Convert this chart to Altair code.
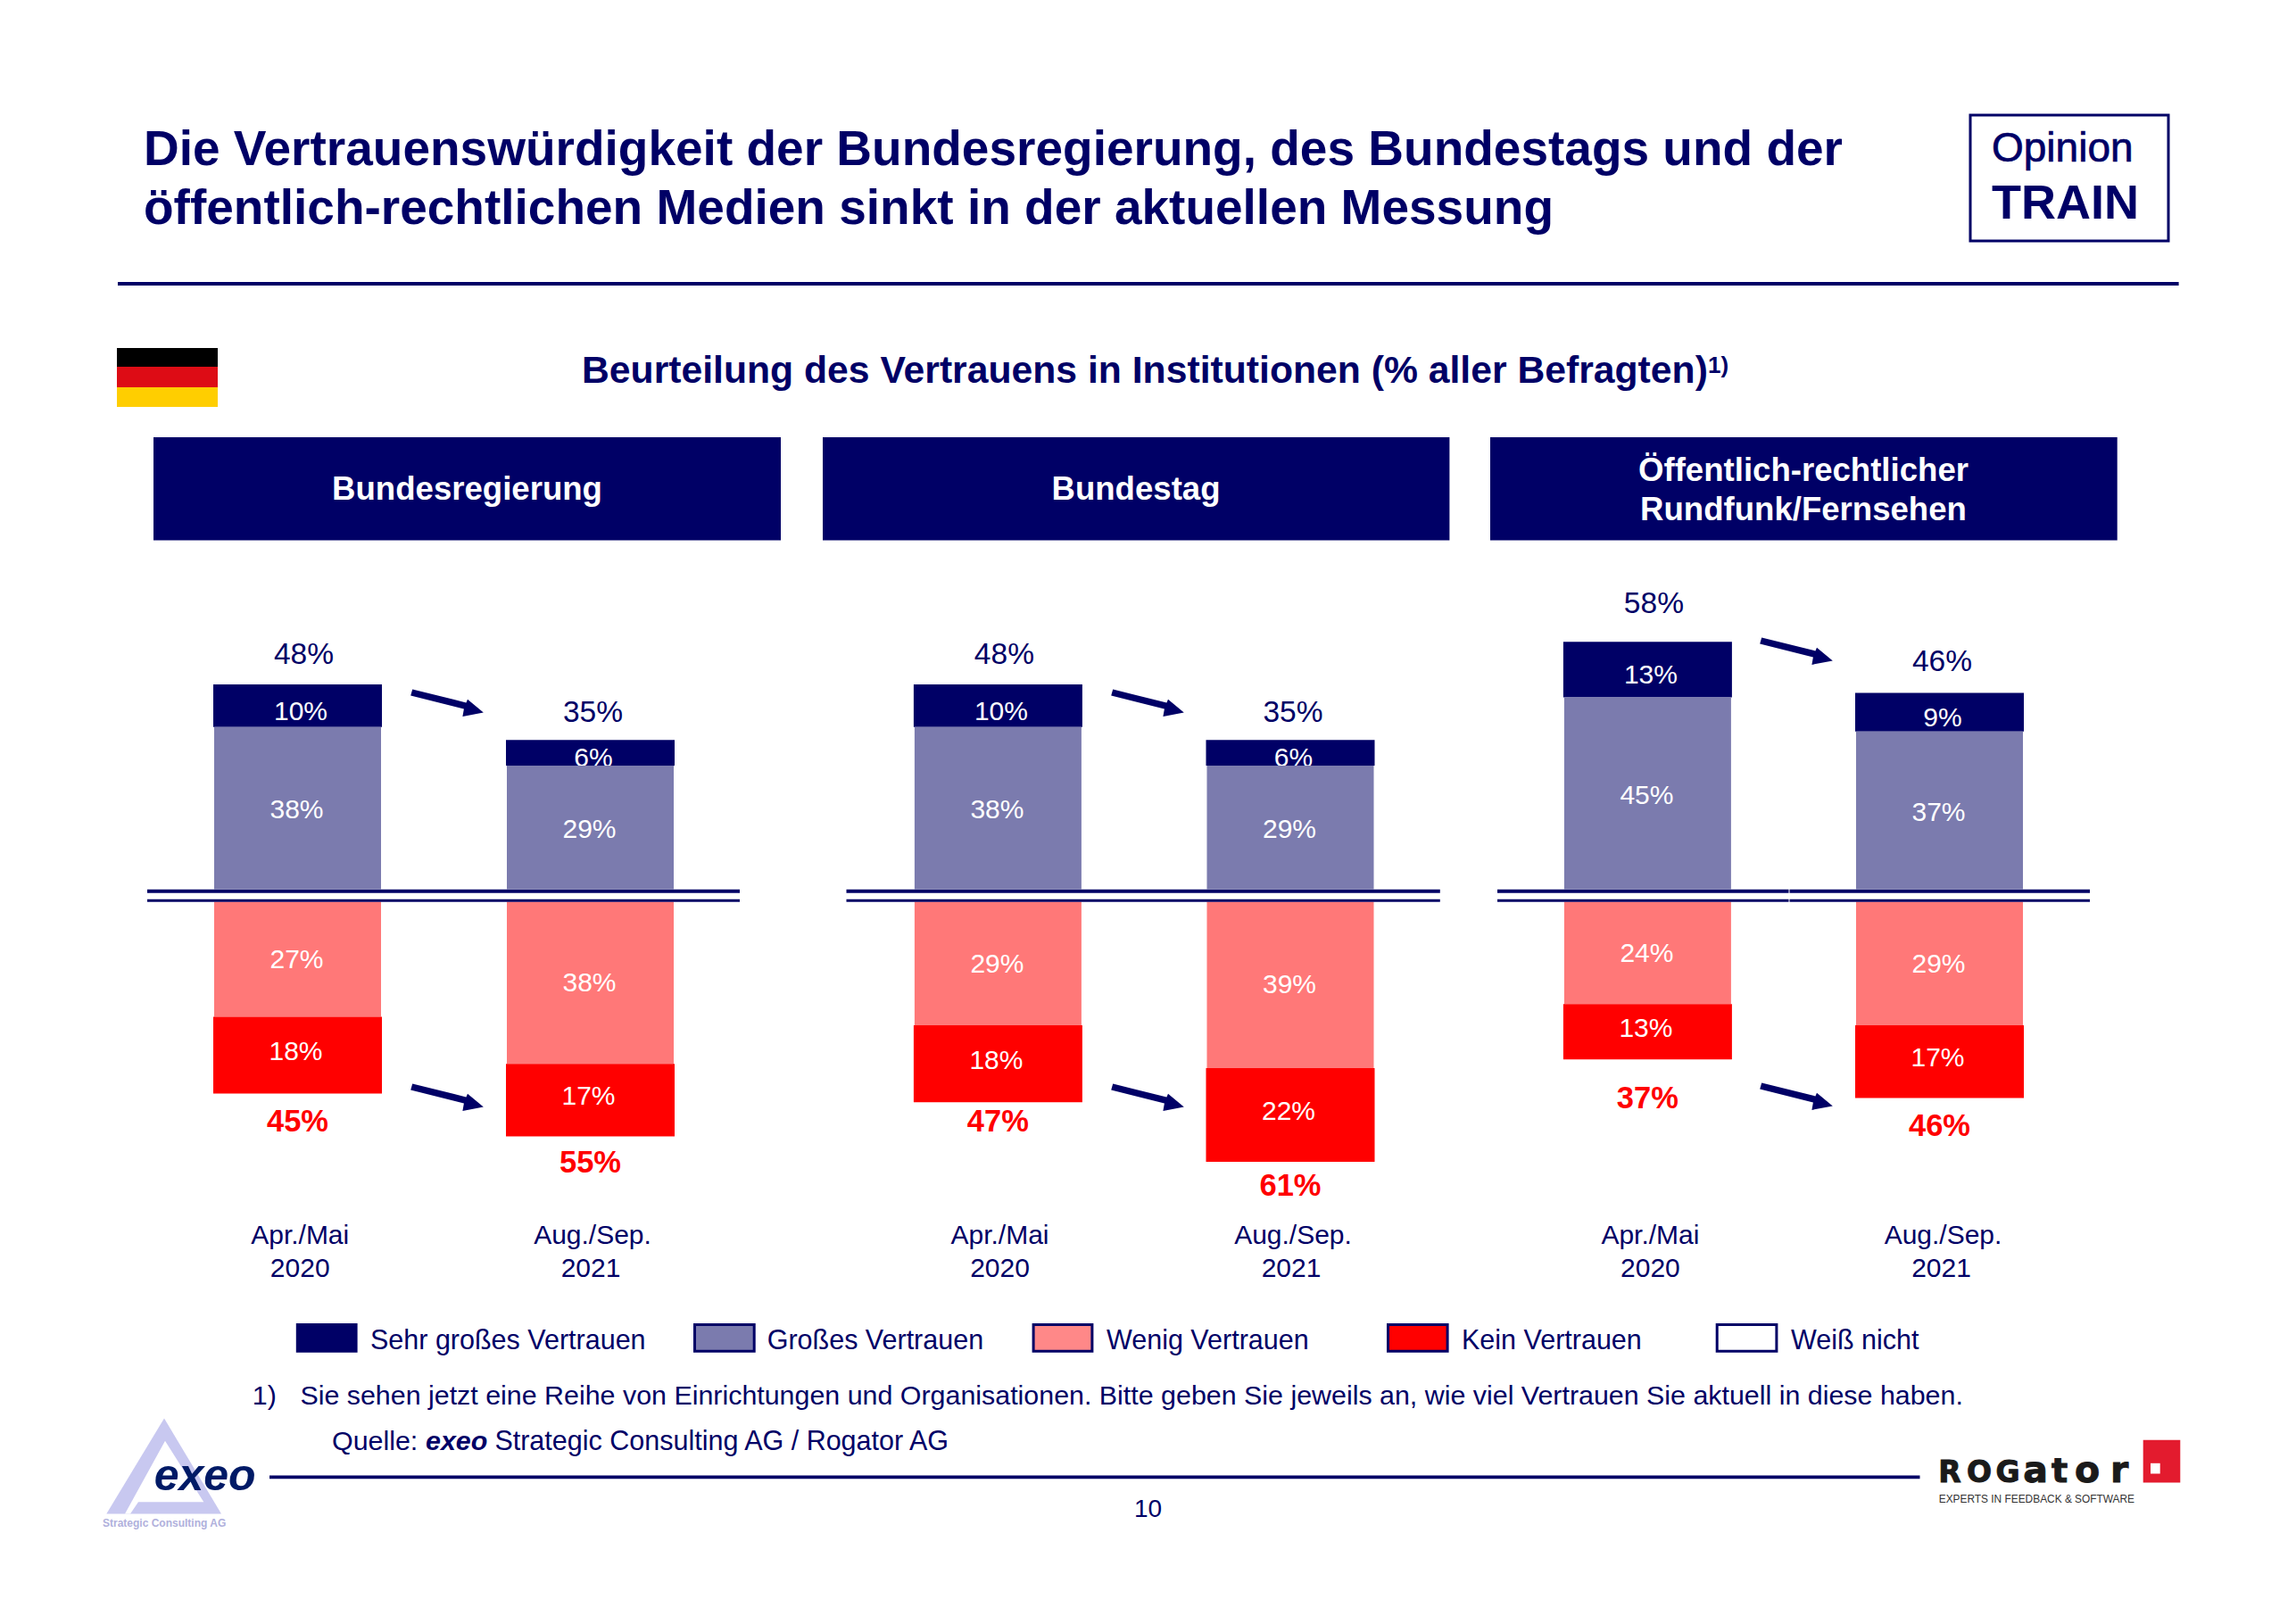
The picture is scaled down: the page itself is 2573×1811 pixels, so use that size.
import altair as alt
import pandas as pd

# ---------- values ----------
institutions = ["Bundesregierung", "Bundestag", "Öffentlich-rechtlicher Rundfunk/Fernsehen"]
periods = [["Apr./Mai", "2020"], ["Aug./Sep.", "2021"]]
sehr_gross = [10, 6, 10, 6, 13, 9]
gross = [38, 29, 38, 29, 45, 37]
wenig = [27, 38, 29, 39, 24, 29]
kein = [18, 17, 18, 22, 13, 17]
total_pos = [48, 35, 48, 35, 58, 46]
total_neg = [45, 55, 47, 61, 37, 46]
legend_names = ["Sehr großes Vertrauen", "Großes Vertrauen", "Wenig Vertrauen", "Kein Vertrauen", "Weiß nicht"]

# ---------- layout (page pixels) ----------
W, H = 2557, 1780
PX = 4.78
ZERO_UP = 996.5
ZERO_LOW = 1010.5
bar_centres = [333.5, 661.5, 1118.4, 1446.0, 1846.4, 2173.5]
gap_pos = [35, 32, 35, 32, 44, 37]
gap_neg = [30, 28.5, 20.5, 25.5, 42.6, 30.7]
dx_pos = [7, 3, 7, 3, 7, 3]
date_x = [336.2, 664, 1120.5, 1449, 1849.4, 2177.5]

NAVY = "#000066"
GREY = "#7B7BAE"
PINK = "#FF7878"
RED = "#FF0000"
FONT = "Liberation Sans"

Y0 = ZERO_UP - 8
y_scale = alt.Scale(domain=[(Y0 - H) / PX, Y0 / PX], zero=False, nice=False)
x_scale = alt.Scale(domain=[0, W], zero=False, nice=False)
X = lambda f: alt.X(f, type="quantitative", scale=x_scale, axis=None)
Y = lambda f: alt.Y(f, type="quantitative", scale=y_scale, axis=None)
LOW = (ZERO_LOW - ZERO_UP) / PX  # gap between upper and lower halves, in % units

layers = []


def text(s, x, y, size=30, color=NAVY, weight="normal", style="normal", align="left", font=FONT, **kw):
    layers.append(
        alt.Chart(pd.DataFrame({"t": [s]}))
        .mark_text(fontSize=size, color=color, fontWeight=weight, fontStyle=style, align=align,
                   baseline="alphabetic", font=font, **kw)
        .encode(x=alt.value(x - 8), y=alt.value(y - 8), text="t:N")
    )


def box(x0, x1, y0, y1, fill=NAVY, stroke=None, sw=0):
    kw = {"stroke": stroke, "strokeWidth": sw} if stroke else {}
    layers.append(
        alt.Chart(pd.DataFrame({"a": [0]}))
        .mark_rect(color=fill, **kw)
        .encode(x=alt.value(x0 - 8), x2=alt.value(x1 - 8), y=alt.value(y0 - 8), y2=alt.value(y1 - 8))
    )


def symbol(path, x, y, color):
    layers.append(
        alt.Chart(pd.DataFrame({"a": [0]}))
        .mark_point(shape=path, filled=True, size=4, color=color, opacity=1, strokeWidth=0)
        .encode(x=alt.value(x - 8), y=alt.value(y - 8))
    )


def poly(points):
    return "M" + "L".join(f"{a},{b}" for a, b in points) + "Z"


# ---------- page furniture ----------
text("Die Vertrauenswürdigkeit der Bundesregierung, des Bundestags und der", 161, 184.5, 55, weight="bold")
text("öffentlich-rechtlichen Medien sinkt in der aktuellen Messung", 161, 250.7, 55, weight="bold")
box(2208, 2430, 129, 270, fill="#FFFFFF", stroke=NAVY, sw=3)
text("Opinion", 2232, 180.7, 46, stroke=NAVY, strokeWidth=0.7)
text("TRAIN", 2232, 244.8, 54, weight="bold")
box(132, 2441.6, 316, 320)

box(131, 244, 390, 411, fill="#000000")
box(131, 244, 411, 434, fill="#DD0C15")
box(131, 244, 434, 456, fill="#FFCE00")
text("Beurteilung des Vertrauens in Institutionen (% aller Befragten)", 652, 429, 42.7, weight="bold")
text("1)", 1914, 417.5, 26, weight="bold")

for (a, b) in [(172, 875), (922, 1624.4), (1670, 2372.7)]:
    box(a, b, 490, 605.5)
text(institutions[0], 523.5, 560, 36.6, "#FFFFFF", "bold", align="center")
text(institutions[1], 1273, 560, 36.6, "#FFFFFF", "bold", align="center")
text("Öffentlich-rechtlicher", 2021, 538.6, 36.6, "#FFFFFF", "bold", align="center")
text("Rundfunk/Fernsehen", 2021, 582.8, 36.6, "#FFFFFF", "bold", align="center")

# ---------- stacked bars ----------
n = len(bar_centres)


def seg(base, vals, lower=False):
    rows = []
    for i in range(n):
        a, b = base[i], base[i] + vals[i]
        if lower:
            a, b = -LOW - a, -LOW - b
        rows.append({"lo": a, "hi": b, "mid": (a + b) / 2, "c": bar_centres[i], "lab": f"{vals[i]}%"})
    return pd.DataFrame(rows)


def bars(df, color, width):
    d = df.assign(x0=df.c - 8 - width / 2, x1=df.c - 8 + width / 2)
    layers.append(
        alt.Chart(d).mark_rect(color=color).encode(x=X("x0"), x2="x1:Q", y=Y("lo"), y2="hi:Q")
    )


def labels(df, dx, dy):
    d = df.assign(xc=df.c - 8)
    layers.append(
        alt.Chart(d)
        .mark_text(fontSize=30, color="#FFFFFF", font=FONT, baseline="alphabetic", dx=dx, dy=dy + 10.7)
        .encode(x=X("xc"), y=Y("mid"), text="lab:N")
    )


zeros = [0] * n
s_gross = seg(zeros, gross)
s_sehr = seg(gross, sehr_gross)
s_wenig = seg(zeros, wenig, lower=True)
s_kein = seg(wenig, kein, lower=True)

# navy first, so that the grey bar trims the small 6% label as in the reference
bars(s_sehr, NAVY, 189)
labels(s_sehr, 3.5, 5)
bars(s_gross, GREY, 187)
labels(s_gross, -1, 1)
bars(s_wenig, PINK, 187)
labels(s_wenig, -1, -1)
bars(s_kein, RED, 189)
labels(s_kein, -2, -5)

tot_up = pd.DataFrame({
    "xc": [c - 8 + d for c, d in zip(bar_centres, dx_pos)],
    "y": [v + g / PX for v, g in zip(total_pos, gap_pos)],
    "lab": [f"{v}%" for v in total_pos],
})
layers.append(
    alt.Chart(tot_up).mark_text(fontSize=33.5, color=NAVY, font=FONT, baseline="alphabetic", dy=12)
    .encode(x=X("xc"), y=Y("y"), text="lab:N")
)
tot_down = pd.DataFrame({
    "xc": [c - 8 for c in bar_centres],
    "y": [-LOW - v - g / PX for v, g in zip(total_neg, gap_neg)],
    "lab": [f"{v}%" for v in total_neg],
})
layers.append(
    alt.Chart(tot_down).mark_text(fontSize=34.5, fontWeight="bold", color=RED, font=FONT, baseline="alphabetic", dy=12.3)
    .encode(x=X("xc"), y=Y("y"), text="lab:N")
)

# ---------- double baseline ----------
for a, b in [(165, 829), (948.5, 1613.8), (1678, 2342)]:
    box(a, b, 996.8, 1000.8)
    box(a, b, 1007.7, 1010.7)
box(2004.5, 2005.5, 995, 1011, fill="#FFFFFF")

# ---------- arrows ----------
arrow = poly([(-37.8, -14.5), (-39.8, -7.4), (19.9, 7.5), (18.4, 15.9), (41.8, 11.4), (24, -3.3), (22.4, 0.4)])
for ax, ay in [(500, 787), (500, 1229), (1285, 787), (1285, 1229), (2012, 729), (2012, 1228)]:
    symbol(arrow, ax, ay, NAVY)

# ---------- period labels ----------
for i, x in enumerate(date_x):
    p = periods[i % 2]
    text(p[0], x, 1394, 30, align="center")
    text(p[1], x - (2 if i % 2 else 0), 1430.5, 30, align="center")

# ---------- legend ----------
swatches = [
    (331.8, 400.6, NAVY), (777, 846.7, GREY), (1156.6, 1225.4, "#FF8888"),
    (1554, 1623.6, RED), (1922.7, 1992.4, "#FFFFFF"),
]
legend_x = [415, 859.7, 1240, 1638, 2007]
for (a, b, c), name, lx in zip(swatches, legend_names, legend_x):
    box(a + 1.5, b - 1.5, 1484.5, 1514.2, fill=c, stroke=NAVY, sw=3)
    text(name, lx, 1511.7, 30.5)

# ---------- notes ----------
text("1)", 282.8, 1574.3, 30.4)
text("Sie sehen jetzt eine Reihe von Einrichtungen und Organisationen. Bitte geben Sie jeweils an, "
     "wie viel Vertrauen Sie aktuell in diese haben.", 336.4, 1574.3, 30.4)
text("Quelle:", 372, 1624.8, 30.4)
text("exeo", 477, 1624.8, 30.4, weight="bold", style="italic")
text("Strategic Consulting AG / Rogator AG", 554.4, 1624.8, 30.5)
box(302, 2151.5, 1653.5, 1657.2)
text("10", 1286.5, 1699.5, 28, align="center")

# ---------- logos ----------
LY = 1.5
symbol(poly([(0, -53.5), (64, 53.5), (-64.7, 53.5)]), 184, 1641.5 + LY, "#C8C8F0")
symbol(poly([(1, -28.2), (44.3, 40.2), (-29, 40.2), (-38, 53.5), (-44, 53.5)]), 184, 1641.5 + LY, "#FFFFFF")
text("exeo", 172.7, 1668.3 + LY, 50, color="#001A66", weight="bold", style="italic")
text("Strategic Consulting AG", 115, 1709 + LY, 12, color="#B0B0DC", weight="bold")

box(2401.7, 2443.3, 1612.3 + LY, 1660 + LY, fill="#E31B2E")
box(2410, 2420.7, 1638.3 + LY, 1650 + LY, fill="#FFFFFF")
for ch, cx, size in zip("ROGator", [2185, 2218, 2250, 2281, 2308, 2339, 2375], [33, 33, 33, 41, 38, 41, 41]):
    text(ch, cx, 1659.3 + LY, size, color="#1A1A1A", weight="bold", align="center", font="DejaVu Sans",
         stroke="#1A1A1A", strokeWidth=1)
text("EXPERTS IN FEEDBACK & SOFTWARE", 2172.7, 1682.3 + LY, 11.9, color="#333333")

chart = (
    alt.layer(*layers)
    .properties(width=W, height=H, padding=0, autosize=alt.AutoSizeParams(type="none"), background="#FFFFFF")
    .configure_view(stroke=None)
)
chart.save("out.html", embed_options={"renderer": "svg", "actions": False})
